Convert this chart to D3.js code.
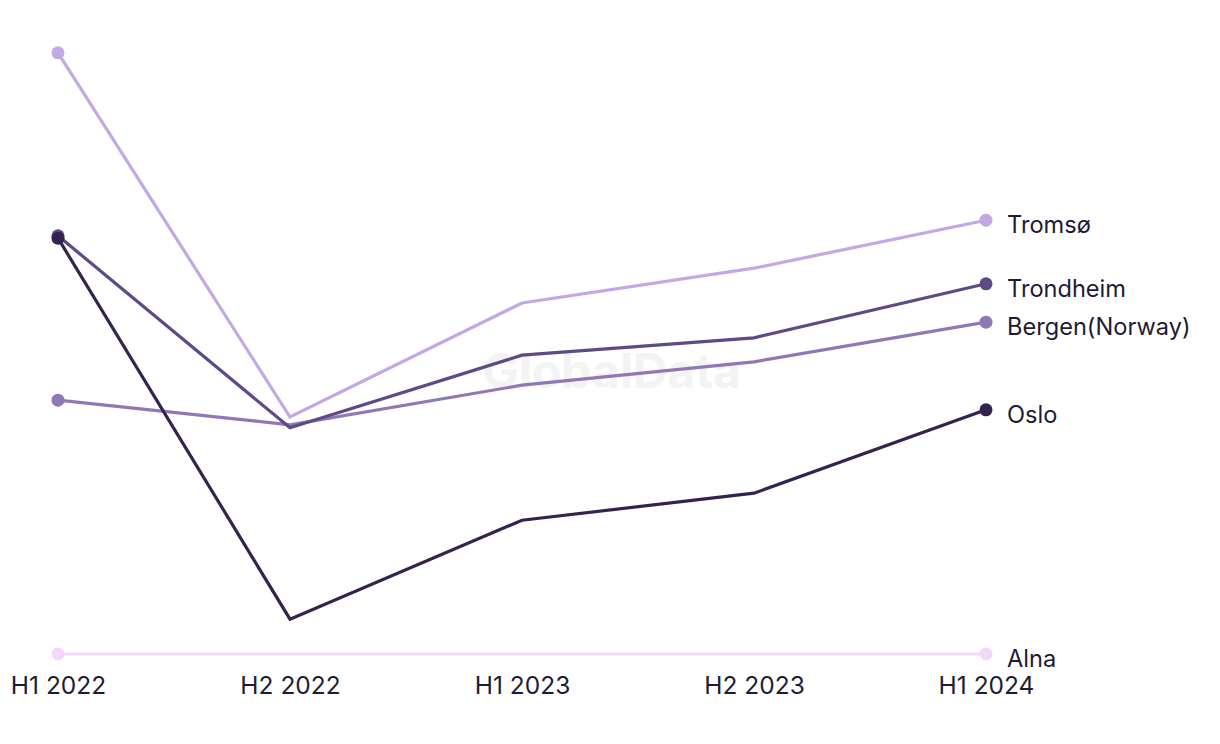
<!DOCTYPE html>
<html><head><meta charset="utf-8">
<script src="https://cdn.jsdelivr.net/npm/d3@7"></script>
<style>body{margin:0;background:#fff}svg{display:block}</style>
</head><body><svg id="c" width="1220" height="744"></svg>
<script>
const categories = ["H1 2022","H2 2022","H1 2023","H2 2023","H1 2024"];
const seriesNames = ["Alna","Bergen(Norway)","Tromsø","Trondheim","Oslo"];
const alna = [0,0,0,0,0];
const bergen = [42.3,38.2,44.8,48.7,55.3];
const tromso = [100.2,39.5,58.5,64.3,72.3];
const trondheim = [69.7,37.7,49.8,52.7,61.7];
const oslo = [69.3,5.8,22.3,26.8,40.7];
const colors = ["#f0daf8","#8f78b5","#c2a8e4","#5e4a85","#35234f"];
const seriesValues = [alna,bergen,tromso,trondheim,oslo];

const svg = d3.select("#c");
const font = "Inter, 'Liberation Sans', sans-serif";
const x = d3.scalePoint().domain(categories).range([58,986]);
const y = d3.scaleLinear().domain([0,100]).range([654,54]);

svg.append("text").attr("x",612).attr("y",388).attr("text-anchor","middle")
  .attr("font-family",font).attr("font-weight",700).attr("font-size",48)
  .attr("fill","#f3f3f3").text("GlobalData");

const line = d3.line().x((d,i)=>x(categories[i])).y(d=>y(d));
seriesNames.forEach((name,si)=>{
  const vals = seriesValues[si];
  const g = svg.append("g");
  g.append("path").attr("d",line(vals)).attr("fill","none")
    .attr("stroke",colors[si]).attr("stroke-width",3.2).attr("stroke-linejoin","miter");
  [0,vals.length-1].forEach(i=>{
    g.append("circle").attr("cx",x(categories[i])).attr("cy",y(vals[i])).attr("r",6.5).attr("fill",colors[si]);
  });
  g.append("text").attr("x",1007).attr("y",y(vals[vals.length-1])+13)
    .attr("font-family",font).attr("font-size",23.6).attr("fill","#1e1b33").text(name);
});

const xAxis = d3.axisBottom(x).tickSize(0).tickPadding(0);
const ax = svg.append("g").attr("transform","translate(0,694)").call(xAxis);
ax.select(".domain").remove();
ax.selectAll("text").attr("dy",0).attr("font-family",font).attr("font-size",24.5).attr("fill","#1e1b33");
</script></body></html>
